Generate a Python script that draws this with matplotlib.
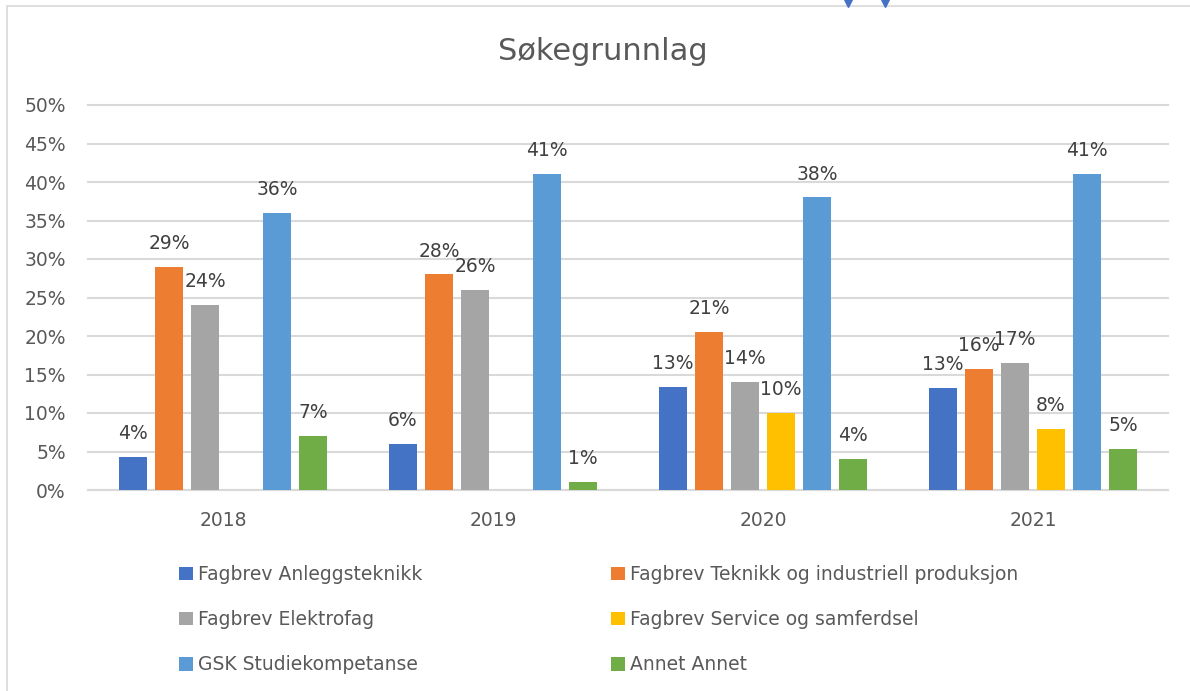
import math

import numpy as np
from matplotlib import pyplot as plt
from matplotlib.patches import Patch, Rectangle
from matplotlib.ticker import FuncFormatter

plt.rcParams["font.family"] = ["DejaVu Sans"]

years = ["2018", "2019", "2020", "2021"]
series_names = [
    "Fagbrev Anleggsteknikk",
    "Fagbrev Teknikk og industriell produksjon",
    "Fagbrev Elektrofag",
    "Fagbrev Service og samferdsel",
    "GSK Studiekompetanse",
    "Annet Annet",
]
anlegg = [4.3, 6.0, 13.4, 13.3]
teknikk = [29.0, 28.0, 20.5, 15.7]
elektro = [24.0, 26.0, 14.0, 16.5]
service = [np.nan, np.nan, 10.0, 7.9]
gsk = [36.0, 41.0, 38.0, 41.0]
annet = [7.0, 1.0, 4.0, 5.3]
colors = ["#4472C4", "#ED7D31", "#A5A5A5", "#FFC000", "#5B9BD5", "#70AD47"]

series = [anlegg, teknikk, elektro, service, gsk, annet]
text_color = "#595959"

fig = plt.figure(figsize=(11.9, 6.91), dpi=100)
ax = fig.add_axes([88 / 1190, 1 - 490 / 691, 1080 / 1190, 385 / 691])

x = np.arange(len(years))
pitch = 36 / 270
width = 28 / 270
for i, (vals, color) in enumerate(zip(series, colors)):
    pos = x + (i - 2.5) * pitch
    ax.bar(pos, vals, width=width, color=color, zorder=3)
    for px, v in zip(pos, vals):
        if np.isnan(v):
            continue
        # excel style rounding (half up)
        ax.annotate(f"{math.floor(v + 0.5)}%", (px, v), xytext=(0, 10),
                    textcoords="offset points", ha="center", va="bottom",
                    fontsize=13.5, color="#404040")

ax.set_xlim(-0.5, 3.5)
ax.set_ylim(0, 50)
ax.set_yticks(np.arange(0, 51, 5))
ax.yaxis.set_major_formatter(FuncFormatter(lambda v, _: f"{v:.0f}%"))
ax.set_xticks(x)
ax.set_xticklabels(years)
ax.grid(axis="y", color="#D9D9D9", linewidth=1.5, zorder=0)
for line in ax.get_ygridlines():
    line.set_clip_on(False)
for side in ["top", "right", "left"]:
    ax.spines[side].set_visible(False)
ax.spines["bottom"].set_color("#D9D9D9")
ax.spines["bottom"].set_linewidth(1.5)
ax.tick_params(axis="both", length=0, labelsize=13.5, labelcolor=text_color)
ax.tick_params(axis="y", pad=16)
ax.tick_params(axis="x", pad=15)

fig.text(603 / 1190, 1 - 52 / 691, "Søkegrunnlag", ha="center", va="center",
         fontsize=22, color=text_color)

handles = [Patch(facecolor=c, edgecolor="none") for c in colors]
for col, bx in [(0, 179), (1, 611)]:
    idx = [col, col + 2, col + 4]
    fig.legend([handles[i] for i in idx], [series_names[i] for i in idx],
               loc="upper left", bbox_to_anchor=(bx / 1190, 1 - 565 / 691),
               frameon=False, fontsize=13.5, labelcolor=text_color,
               handlelength=0.72, handleheight=0.72, handletextpad=0.3,
               labelspacing=1.4, borderpad=0, borderaxespad=0)

# chart border
fig.patches.append(Rectangle((7 / 1190, -0.05), 1.1, 1 - 6 / 691 + 0.05,
                             transform=fig.transFigure, fill=False,
                             edgecolor="#D9D9D9", linewidth=1.2))
# small arrow marks at the top edge
fig.add_artist(plt.Line2D([848 / 1190, 885 / 1190], [1 - 3 / 691, 1 - 3 / 691],
                          transform=fig.transFigure, linestyle="none",
                          marker="v", markersize=6, color="#4472C4"))

fig.savefig("out.png", dpi=100)
